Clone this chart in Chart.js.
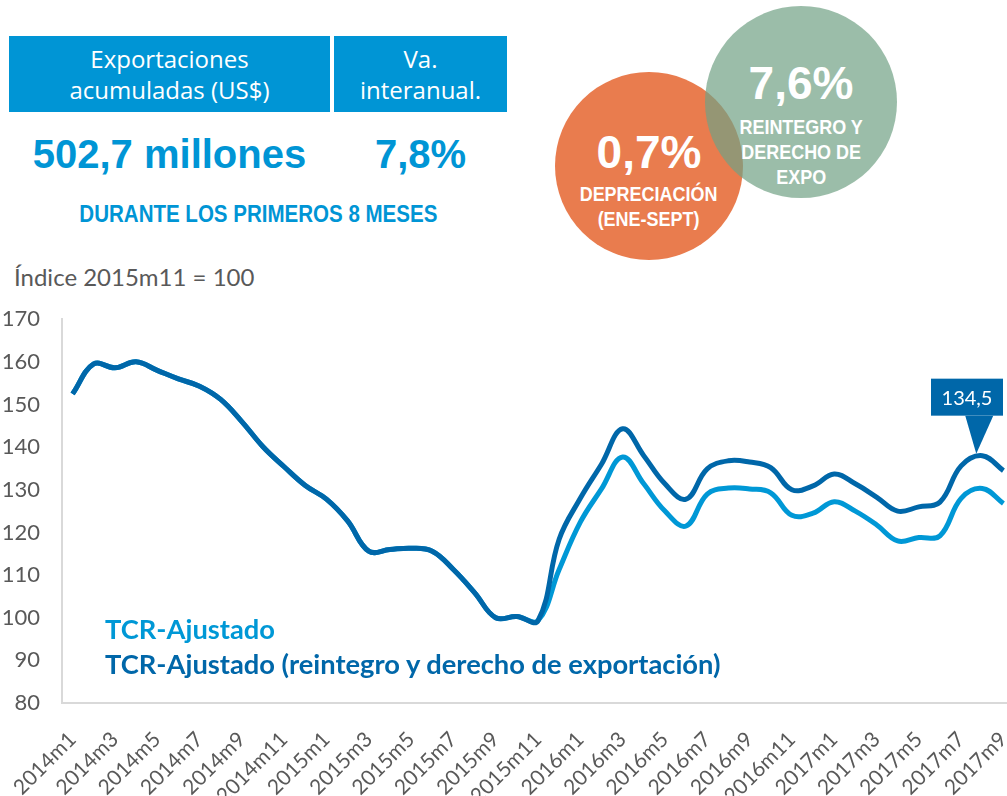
<!DOCTYPE html>
<html>
<head>
<meta charset="utf-8">
<script src="https://cdn.jsdelivr.net/npm/chart.js@4/dist/chart.umd.min.js"></script>
<style>
  body { margin: 0; background: #fff; }
  #page { position: relative; width: 1007px; height: 796px; overflow: hidden; }
  .box { position: absolute; top: 36px; height: 76px; background: #0095d5; color: #fff;
         font-family: "Open Sans", sans-serif; font-size: 24px; line-height: 31px; text-align: center;
         display: flex; align-items: center; justify-content: center; }
  .big { position: absolute; font-family: "Liberation Sans", Arial, sans-serif; font-weight: bold;
         color: #0095d5; font-size: 40px; text-align: center; line-height: 40px; }
  .narrow { font-family: "Liberation Sans", Arial, sans-serif; font-weight: bold;
            display: inline-block; transform: scaleX(0.855); transform-origin: center; }
  .circle { position: absolute; border-radius: 50%; color: #fff; text-align: center; }
  .circle .pct { font-family: "Liberation Sans", Arial, sans-serif; font-weight: bold; font-size: 46px; line-height: 46px; }
  .circle .sub { font-size: 21px; line-height: 25px; }
  .legend { position: absolute; left: 105px; font-family: Lato, sans-serif; font-weight: bold; font-size: 27.3px; line-height: 32px; white-space: nowrap; }
  #wrap { position: absolute; left: 0; top: 284px; width: 1014px; height: 512px; }
</style>
</head>
<body>
<div id="page">
  <div class="box" style="left:9px; width:321px;">Exportaciones<br>acumuladas (US$)</div>
  <div class="box" style="left:334px; width:173px;">Va.<br>interanual.</div>
  <div class="big" style="left:9px; width:321px; top:134px;">502,7 millones</div>
  <div class="big" style="left:334px; width:173px; top:134px;">7,8%</div>
  <div style="position:absolute; left:9px; width:498px; top:200px; text-align:center;">
    <span class="narrow" style="color:#0095d5; font-size:24px;">DURANTE LOS PRIMEROS 8 MESES</span>
  </div>

  <div class="circle" style="left:555px; top:72px; width:188px; height:188px; background:#e97c4e;">
    <div class="pct" style="margin-top:57px;">0,7%</div>
    <div class="sub" style="margin-top:6px;"><span class="narrow">DEPRECIACIÓN<br>(ENE-SEPT)</span></div>
  </div>
  <div class="circle" style="left:705px; top:6px; width:192px; height:192px; background:rgba(112,161,132,0.7);">
    <div class="pct" style="margin-top:54px;">7,6%</div>
    <div class="sub" style="margin-top:8px;"><span class="narrow">REINTEGRO Y<br>DERECHO DE<br>EXPO</span></div>
  </div>

  <div style="position:absolute; left:14px; top:262px; font-family:Lato, sans-serif; font-size:24px; color:#595959;">Índice 2015m11 = 100</div>

  <div id="wrap"><canvas id="tcrChart"></canvas></div>

  <div class="legend" style="top:613px; color:#0098d6;">TCR-Ajustado</div>
  <div class="legend" style="top:648px; color:#0067a9;">TCR-Ajustado (reintegro y derecho de exportación)</div>
</div>

<script>
const months = [
  '2014m1','2014m2','2014m3','2014m4','2014m5','2014m6','2014m7','2014m8','2014m9','2014m10','2014m11','2014m12',
  '2015m1','2015m2','2015m3','2015m4','2015m5','2015m6','2015m7','2015m8','2015m9','2015m10','2015m11','2015m12',
  '2016m1','2016m2','2016m3','2016m4','2016m5','2016m6','2016m7','2016m8','2016m9','2016m10','2016m11','2016m12',
  '2017m1','2017m2','2017m3','2017m4','2017m5','2017m6','2017m7','2017m8','2017m9'
];

// TCR-Ajustado (reintegro y derecho de exportacion)
const tcrReintegro = [
  152.5, 159.5, 158.6, 160.0, 158.0, 156.0, 154.3, 151.2, 146.0, 140.1, 135.4, 131.0,
  127.8, 122.7, 115.6, 116.0, 116.3, 115.6, 111.3, 105.9, 100.0, 100.3, 99.3, 118.4,
  128.0, 136.0, 144.3, 138.0, 131.4, 127.8, 134.9, 136.8, 136.5, 135.2, 130.0, 130.9,
  133.7, 131.4, 128.3, 125.0, 126.0, 127.1, 135.6, 138.0, 134.5
];

// TCR-Ajustado
const tcrAjustado = [
  152.5, 159.5, 158.6, 160.0, 158.0, 156.0, 154.3, 151.2, 146.0, 140.1, 135.4, 131.0,
  127.8, 122.7, 115.6, 116.0, 116.3, 115.6, 111.3, 105.9, 100.0, 100.3, 99.3, 111.3,
  122.4, 130.2, 137.7, 131.4, 125.0, 121.5, 129.0, 130.4, 130.2, 129.3, 124.0, 124.5,
  127.2, 125.0, 121.8, 118.0, 118.8, 119.2, 128.0, 130.3, 126.8
];

const yTicks = { min: 80, max: 170, step: 10 };
const calloutIndex = 43;
const calloutText = '134,5';

const darkBlue = '#0067a9';
const lightBlue = '#0098d6';

const calloutPlugin = {
  id: 'calloutPlugin',
  afterDatasetsDraw(chart) {
    const { ctx } = chart;
    const pt = chart.getDatasetMeta(0).data[calloutIndex];
    const tipX = pt.x - 6;
    const tipY = pt.y - 2;
    const w = 72, h = 37;
    const right = Math.min(tipX + 29, 1003);
    const left = right - w;
    const bottom = tipY - 38;
    const top = bottom - h;

    ctx.save();
    ctx.fillStyle = darkBlue;
    ctx.fillRect(left, top, w, h);
    ctx.beginPath();
    ctx.moveTo(tipX - 11, bottom);
    ctx.lineTo(tipX + 17, bottom);
    ctx.lineTo(tipX, tipY);
    ctx.closePath();
    ctx.fill();
    ctx.fillStyle = '#fff';
    ctx.font = '20px Lato, sans-serif';
    ctx.textAlign = 'center';
    ctx.textBaseline = 'middle';
    ctx.fillText(calloutText, left + w / 2, top + h / 2 + 1);
    ctx.restore();
  }
};

const ctx = document.getElementById('tcrChart').getContext('2d');
new Chart(ctx, {
  type: 'line',
  data: {
    labels: months,
    datasets: [
      {
        label: 'TCR-Ajustado (reintegro y derecho de exportación)',
        data: tcrReintegro,
        borderColor: darkBlue,
        borderWidth: 5,
        pointRadius: 0,
        tension: 0.4,
        order: 0
      },
      {
        label: 'TCR-Ajustado',
        data: tcrAjustado,
        borderColor: lightBlue,
        borderWidth: 5,
        pointRadius: 0,
        tension: 0.4,
        order: 1
      }
    ]
  },
  options: {
    responsive: true,
    maintainAspectRatio: false,
    animation: false,
    layout: { padding: { top: 9, right: 0, left: 0, bottom: 0 } },
    plugins: {
      legend: { display: false },
      tooltip: { enabled: false }
    },
    scales: {
      x: {
        offset: true,
        grid: { drawOnChartArea: false, drawTicks: false, offset: false },
        border: { display: true, color: '#d9d9d9', width: 2 },
        ticks: {
          autoSkip: false,
          minRotation: 45,
          maxRotation: 45,
          padding: 24,
          color: '#595959',
          font: { family: 'Lato', size: 21 },
          callback: (val, i) => (i % 2 === 0 ? months[i] : '')
        },
        afterFit(scale) {
          scale.height = 93;
          scale.paddingLeft = 0;
          scale.paddingRight = 0;
        }
      },
      y: {
        min: yTicks.min,
        max: yTicks.max,
        grid: { drawOnChartArea: false, drawTicks: false },
        border: { display: true, color: '#d9d9d9', width: 2 },
        ticks: {
          stepSize: yTicks.step,
          padding: 22,
          color: '#595959',
          font: { family: 'Lato', size: 22 }
        },
        afterFit(scale) { scale.width = 62; }
      }
    }
  },
  plugins: [calloutPlugin]
});
</script>
</body>
</html>
